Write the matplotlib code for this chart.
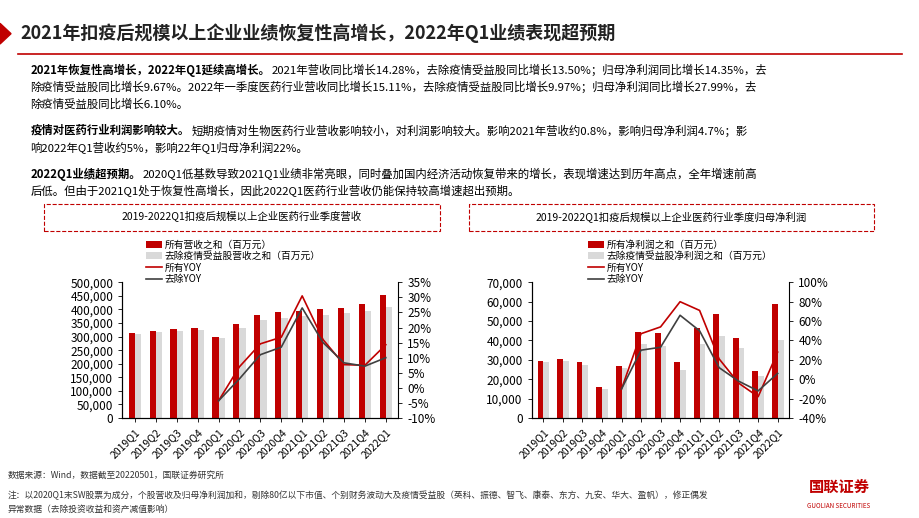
import matplotlib.pyplot as plt
from matplotlib.patches import Rectangle, Polygon
import numpy as np

plt.rcParams['font.family'] = ['Noto Sans CJK SC']

quarters = ['2019Q1', '2019Q2', '2019Q3', '2019Q4', '2020Q1', '2020Q2', '2020Q3', '2020Q4',
            '2021Q1', '2021Q2', '2021Q3', '2021Q4', '2022Q1']
rev_all = [313000, 322000, 329000, 333000, 300000, 347000, 378000, 390000, 393000, 400000, 407000, 420000, 452000]
rev_ex = [308000, 316000, 322000, 326000, 294000, 330000, 360000, 370000, 375000, 378000, 388000, 395000, 410000]
rev_yoy_all = [None] * 4 + [-4.3, 7.0, 14.6, 16.8, 30.5, 16.0, 7.7, 7.5, 14.3]
rev_yoy_ex = [None] * 4 + [-4.3, 3.0, 11.0, 13.5, 26.5, 15.0, 8.3, 7.2, 10.0]
np_all = [29500, 30300, 28700, 16200, 27000, 44500, 44000, 29000, 46200, 53800, 41300, 24000, 59000]
np_ex = [28700, 29200, 27500, 15000, 25800, 38000, 37000, 24800, 38000, 42500, 36000, 21500, 40000]
np_yoy_all = [None] * 4 + [-10, 47, 54, 80, 71, 21, -4, -18, 28]
np_yoy_ex = [None] * 4 + [-10, 30, 33, 66, 50, 12, -2, -12, 6]

RED = '#C00000'
GREY = '#D9D9D9'
DARK = '#404040'

fig = plt.figure(figsize=(9.2, 5.18), dpi=100)
renderer = fig.canvas.get_renderer()

# header
fig.patches.append(Polygon([[0, 0.955], [0.012, 0.935], [0, 0.915]], closed=True,
                           transform=fig.transFigure, color=RED))
fig.text(0.022, 0.935, '2021年扣疫后规模以上企业业绩恢复性高增长，2022年Q1业绩表现超预期',
         fontsize=13, fontweight='bold', va='center', color='#222222')
fig.add_artist(plt.Line2D([0.02, 0.98], [0.895, 0.895], color=RED, lw=1.2))

paras = [
    (0.865, [('2021年恢复性高增长，2022年Q1延续高增长。', True),
             ('2021年营收同比增长14.28%，去除疫情受益股同比增长13.50%；归母净利润同比增长14.35%，去', False)]),
    (0.832, [('除疫情受益股同比增长9.67%。2022年一季度医药行业营收同比增长15.11%，去除疫情受益股同比增长9.97%；归母净利润同比增长27.99%，去', False)]),
    (0.799, [('除疫情受益股同比增长6.10%。', False)]),
    (0.748, [('疫情对医药行业利润影响较大。', True),
             ('短期疫情对生物医药行业营收影响较小，对利润影响较大。影响2021年营收约0.8%，影响归母净利润4.7%；影', False)]),
    (0.715, [('响2022年Q1营收约5%，影响22年Q1归母净利润22%。', False)]),
    (0.664, [('2022Q1业绩超预期。', True),
             ('2020Q1低基数导致2021Q1业绩非常亮眼，同时叠加国内经济活动恢复带来的增长，表现增速达到历年高点，全年增速前高', False)]),
    (0.631, [('后低。但由于2021Q1处于恢复性高增长，因此2022Q1医药行业营收仍能保持较高增速超出预期。', False)]),
]
for y, parts in paras:
    x = 0.033
    for s, bold in parts:
        t = fig.text(x, y, s, fontsize=8.2, fontweight='bold' if bold else 'normal', va='center')
        bb = t.get_window_extent(renderer)
        x += bb.width / fig.bbox.width + 0.002

# subtitle boxes
for x0, w, s in [(0.048, 0.43, '2019-2022Q1扣疫后规模以上企业医药行业季度营收'),
                 (0.51, 0.44, '2019-2022Q1扣疫后规模以上企业医药行业季度归母净利润')]:
    fig.patches.append(Rectangle((x0, 0.555), w, 0.052, transform=fig.transFigure,
                                 fill=False, ls='--', ec=RED, lw=0.8))
    fig.text(x0 + w / 2, 0.581, s, fontsize=7.5, ha='center', va='center')

x = np.arange(len(quarters))
bw = 0.3


def draw(rect, a, b, ya, yb, ylim, yt, y2lim, y2t, labels, legx):
    ax = fig.add_axes(rect)
    ax.bar(x - bw / 2, a, bw, color=RED, label=labels[0])
    ax.bar(x + bw / 2, b, bw, color=GREY, label=labels[1])
    ax.set_ylim(*ylim)
    ax.set_yticks(yt)
    ax.set_yticklabels([f'{v:,}' for v in yt], fontsize=8.5)
    ax.set_xlim(-0.6, len(x) - 0.4)
    ax.set_xticks(x)
    ax.set_xticklabels(quarters, rotation=45, ha='right', fontsize=7.5, rotation_mode='anchor')
    ax2 = ax.twinx()
    xs = x[4:]
    ax2.plot(xs, ya[4:], color=RED, lw=1.2, label=labels[2])
    ax2.plot(xs, yb[4:], color=DARK, lw=1.2, label=labels[3])
    ax2.set_ylim(*y2lim)
    ax2.set_yticks(y2t)
    ax2.set_yticklabels([f'{v}%' for v in y2t], fontsize=8.5)
    for a_ in (ax, ax2):
        a_.spines['top'].set_visible(False)
        a_.tick_params(length=3, width=0.6)
    ax.spines['right'].set_visible(False)
    h1, l1 = ax.get_legend_handles_labels()
    h2, l2 = ax2.get_legend_handles_labels()
    fig.legend(h1 + h2, l1 + l2, loc='upper left', bbox_to_anchor=(legx, 0.545),
               frameon=False, fontsize=7, handlelength=1.6, labelspacing=0.15,
               handletextpad=0.3, borderaxespad=0)
    return ax


draw([0.133, 0.193, 0.3, 0.262], rev_all, rev_ex, rev_yoy_all, rev_yoy_ex,
     (0, 500000), list(range(0, 500001, 50000)), (-10, 35), list(range(-10, 36, 5)),
     ['所有营收之和（百万元）', '去除疫情受益股营收之和（百万元）', '所有YOY', '去除YOY'], 0.155)
draw([0.578, 0.193, 0.28, 0.262], np_all, np_ex, np_yoy_all, np_yoy_ex,
     (0, 70000), list(range(0, 70001, 10000)), (-40, 100), list(range(-40, 101, 20)),
     ['所有净利润之和（百万元）', '去除疫情受益股净利润之和（百万元）', '所有YOY', '去除YOY'], 0.635)

fig.text(0.008, 0.078, '数据来源：Wind，数据截至20220501，国联证券研究所', fontsize=6.3, color='#333333')
fig.text(0.008, 0.038, '注：以2020Q1末SW股票为成分，个股营收及归母净利润加和，剔除80亿以下市值、个别财务波动大及疫情受益股（英科、振德、智飞、康泰、东方、九安、华大、盈帆），修正偶发',
         fontsize=6.3, color='#333333')
fig.text(0.008, 0.012, '异常数据（去除投资收益和资产减值影响）', fontsize=6.3, color='#333333')
fig.text(0.912, 0.05, '国联证券', fontsize=11, fontweight='bold', color=RED, ha='center')
fig.text(0.912, 0.02, 'GUOLIAN SECURITIES', fontsize=4.5, color=RED, ha='center')

fig.savefig('out.png', dpi=100)
